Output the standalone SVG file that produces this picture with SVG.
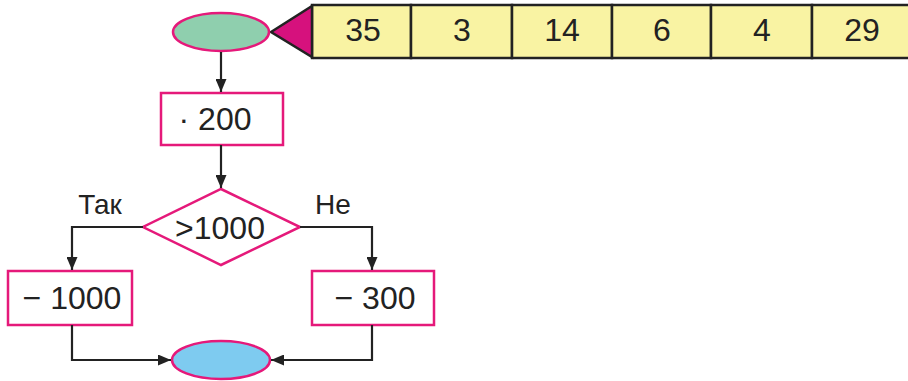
<svg xmlns="http://www.w3.org/2000/svg" width="908" height="381" viewBox="0 0 908 381">
<style>
.t{font-family:"Liberation Sans",Arial,sans-serif;font-size:32px;fill:#222;text-anchor:middle}
.lbl{font-family:"Liberation Sans",Arial,sans-serif;font-size:28px;fill:#222;text-anchor:middle}
.box{fill:#fff;stroke:#e5197a;stroke-width:2.5}
.cell{fill:#f9f3a3;stroke:#222;stroke-width:2.5}
.con{fill:none;stroke:#222;stroke-width:2.2}
</style>
<defs>
<marker id="ah" viewBox="0 0 13 11" refX="13" refY="5.5" markerWidth="13" markerHeight="11" markerUnits="userSpaceOnUse" orient="auto">
<path d="M0,0 L13,5.5 L0,11 z" fill="#222"/>
</marker>
</defs>
<rect width="908" height="381" fill="#fff"/>
<g id="tape">
<rect class="cell" x="312" y="5" width="99" height="53"/>
<rect class="cell" x="411" y="5" width="101" height="53"/>
<rect class="cell" x="512" y="5" width="100" height="53"/>
<rect class="cell" x="612" y="5" width="99" height="53"/>
<rect class="cell" x="711" y="5" width="101" height="53"/>
<rect class="cell" x="812" y="5" width="100" height="53"/>
<text class="t" x="363" y="41">35</text>
<text class="t" x="462" y="41">3</text>
<text class="t" x="562" y="41">14</text>
<text class="t" x="662" y="41">6</text>
<text class="t" x="762" y="41">4</text>
<text class="t" x="862" y="41">29</text>
<polygon points="271,32 312,6 312,57" fill="#d6117d" stroke="#222" stroke-width="2.5" stroke-linejoin="miter"/>
</g>
<g id="start">
<ellipse cx="221" cy="32" rx="48" ry="19" fill="#8fcfae" stroke="#e5197a" stroke-width="2.5"/>
</g>
<g id="mul">
<rect class="box" x="161" y="93" width="122" height="52"/>
<text class="t" x="215" y="130">· 200</text>
</g>
<g id="cond">
<polygon class="box" points="221,189 300,227 221,265 143,227"/>
<text class="t" x="220" y="239">&gt;1000</text>
</g>
<g id="sub1000">
<rect class="box" x="8" y="271" width="124" height="54"/>
<text class="t" x="72" y="309">− 1000</text>
</g>
<g id="sub300">
<rect class="box" x="312" y="271" width="122" height="54"/>
<text class="t" x="375" y="309">− 300</text>
</g>
<g id="end">
<ellipse cx="221" cy="360" rx="49" ry="19" fill="#7ecbf0" stroke="#e5197a" stroke-width="2.5"/>
</g>
<g id="connectors">
<line class="con" x1="221" y1="52" x2="221" y2="92" marker-end="url(#ah)"/>
<line class="con" x1="221" y1="145" x2="221" y2="188" marker-end="url(#ah)"/>
<polyline class="con" points="143,227 72,227 72,270" marker-end="url(#ah)"/>
<polyline class="con" points="300,227 372,227 372,270" marker-end="url(#ah)"/>
<polyline class="con" points="72,325 72,360 171,360" marker-end="url(#ah)"/>
<polyline class="con" points="372,325 372,360 271,360" marker-end="url(#ah)"/>
<text class="lbl" x="100" y="214">Так</text>
<text class="lbl" x="333" y="214">Не</text>
</g>
</svg>
